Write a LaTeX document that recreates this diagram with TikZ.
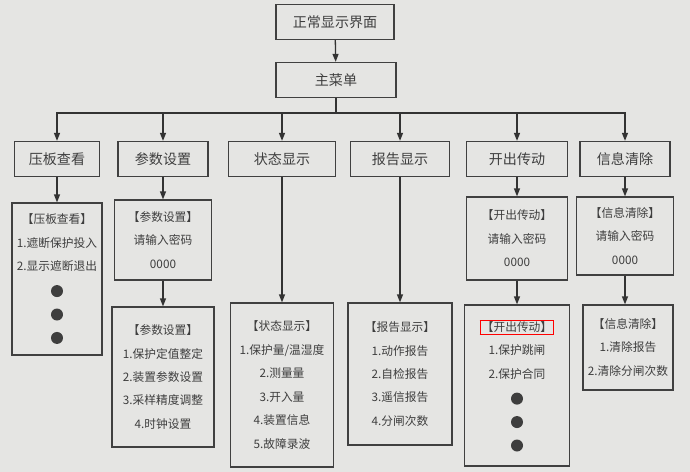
\documentclass[tikz,border=0pt]{standalone}
\usepackage{fontspec}
\setmainfont{Noto Sans CJK SC}
\usetikzlibrary{arrows.meta, positioning}
\definecolor{fondo}{RGB}{229,229,227}
\definecolor{tinta}{RGB}{62,62,62}
\newcommand{\punto}{\tikz[baseline=-0.5ex]\fill[tinta] (0,0) circle (0.18cm);}

\begin{document}
\begin{tikzpicture}[
  x=0.03cm, y=-0.03cm,
  tam/.style 2 args={minimum width=#1*0.03cm, minimum height=#2*0.03cm},
  titulo/.style={rectangle, draw=black!75, line width=1.1pt, text=tinta,
    inner sep=0pt, font=\fontsize{12}{14}\selectfont},
  lista/.style={rectangle, draw=black!75, line width=1.1pt, text=tinta,
    inner sep=0pt, align=center, font=\fontsize{10}{20}\selectfont},
  flecha/.style={-{Triangle[length=2.4mm, width=1.8mm]}, line width=1.1pt, draw=black!80}
]
  \path[use as bounding box, fill=fondo] (0,0) rectangle (690,472);

  \node[titulo, tam={118}{35}] (pantalla) at (335,22) {正常显示界面};
  \node[titulo, tam={120}{35}] (menu) at (336,80) {主菜单};
  \coordinate (bus) at (336,113);

  % segundo nivel
  \node[titulo, tam={85}{35}] (yaban) at (57,159) {压板查看};
  \node[titulo, tam={90}{35}] (canshu) at (163,159) {参数设置};
  \node[titulo, tam={107}{35}] (estado) at (282,159) {状态显示};
  \node[titulo, tam={99}{35}] (informe) at (400,159) {报告显示};
  \node[titulo, tam={101}{35}] (kaichu) at (517,159) {开出传动};
  \node[titulo, tam={90}{35}] (xinxi) at (625,159) {信息清除};

  % tercer nivel
  \node[lista, tam={90}{152}] (yabanL) at (57,279)
    {【压板查看】\\1.遮断保护投入\\2.显示遮断退出\\\punto\\\punto\\\punto};
  \node[lista, tam={97}{80}] (canshuP) at (163,240)
    {【参数设置】\\请输入密码\\0000};
  \node[lista, tam={102}{140}] (canshuL) at (163,377)
    {【参数设置】\\1.保护定值整定\\2.装置参数设置\\3.采样精度调整\\4.时钟设置};
  \node[lista, tam={103}{164}] (estadoL) at (282,385)
    {【状态显示】\\1.保护量/温湿度\\2.测量量\\3.开入量\\4.装置信息\\5.故障录波};
  \node[lista, tam={104}{142}] (informeL) at (400,374)
    {【报告显示】\\1.动作报告\\2.自检报告\\3.遥信报告\\4.分闸次数};
  \node[lista, tam={101}{83}] (kaichuP) at (517,238.5)
    {【开出传动】\\请输入密码\\0000};
  \node[lista, tam={105}{161}] (kaichuL) at (517,385.5)
    {\fboxsep=1pt\fboxrule=0.8pt\fcolorbox{red}{fondo}{【开出传动】}\\1.保护跳闸\\2.保护合同\\\punto\\\punto\\\punto};
  \node[lista, tam={97}{78}] (xinxiP) at (625,236)
    {【信息清除】\\请输入密码\\0000};
  \node[lista, tam={90}{85}] (xinxiL) at (628,347.5)
    {【信息清除】\\1.清除报告\\2.清除分闸次数};

  \draw[flecha] (pantalla) -- (menu);
  \draw[line width=1.1pt, draw=black!80] (menu) -- (bus);
  \foreach \n in {yaban, canshu, estado, informe, kaichu, xinxi}
    \draw[flecha] (bus) -| (\n.north);

  \draw[flecha] (yaban) -- (yabanL);
  \draw[flecha] (canshu) -- (canshuP);
  \draw[flecha] (canshuP) -- (canshuL);
  \draw[flecha] (estado) -- (estadoL);
  \draw[flecha] (informe) -- (informeL);
  \draw[flecha] (kaichu) -- (kaichuP);
  \draw[flecha] (kaichuP) -- (kaichuL);
  \draw[flecha] (xinxi) -- (xinxiP);
  \draw[flecha] (xinxiP) -- (xinxiP.south |- xinxiL.north);
\end{tikzpicture}
\end{document}
